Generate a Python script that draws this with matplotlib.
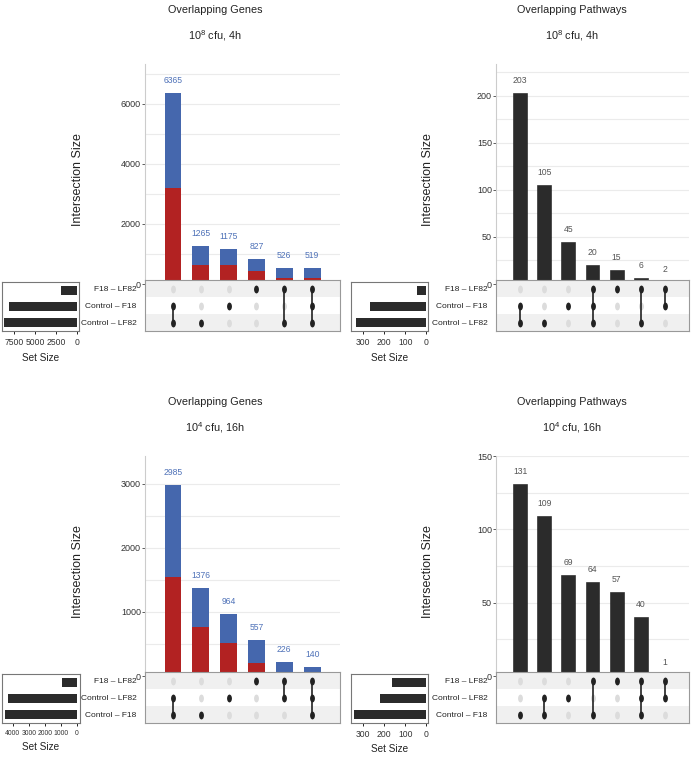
import matplotlib.pyplot as plt
from matplotlib.path import Path
from matplotlib.transforms import Affine2D
from matplotlib.ticker import MultipleLocator
import numpy as np

plt.rcParams['font.family'] = ['Liberation Sans', 'DejaVu Sans']
plt.rcParams['mathtext.default'] = 'regular'

W, H = 691, 762

# ---- data ----
# genes, 10^8 cfu 4h
g8_sets = ['F18 – LF82', 'Control – F18', 'Control – LF82']
g8_sizes = [1872, 8059, 8675]
g8_totals = [6365, 1265, 1175, 827, 526, 519]
g8_red = [3190, 620, 620, 440, 200, 210]
g8_members = [[1, 2], [2], [1], [0], [0, 2], [0, 1, 2]]

# pathways, 10^8 cfu 4h
p8_sets = ['F18 – LF82', 'Control – F18', 'Control – LF82']
p8_sizes = [43, 270, 334]
p8_totals = [203, 105, 45, 20, 15, 6, 2]
p8_members = [[1, 2], [2], [1], [0, 1, 2], [0], [0, 2], [0, 1]]

# genes, 10^4 cfu 16h
g4_sets = ['F18 – LF82', 'Control – LF82', 'Control – F18']
g4_sizes = [923, 4315, 4501]
g4_totals = [2985, 1376, 964, 557, 226, 140]
g4_red = [1540, 770, 510, 210, 70, 20]
g4_members = [[1, 2], [2], [1], [0], [0, 1], [0, 1, 2]]

# pathways, 10^4 cfu 16h
p4_sets = ['F18 – LF82', 'Control – LF82', 'Control – F18']
p4_sizes = [162, 219, 344]
p4_totals = [131, 109, 69, 64, 57, 40, 1]
p4_members = [[2], [1, 2], [1], [0, 2], [0], [0, 1, 2], [0, 1]]

RED = '#b22222'
BLUE = '#4567ad'
DARK = '#2b2b2b'

dot = Path.unit_circle().transformed(Affine2D().scale(0.62, 1.0))


def box(x0, y0, x1, y1):
    return [x0 / W, 1 - y1 / H, (x1 - x0) / W, (y1 - y0) / H]


def panel(fig, title, subtitle, sets, sizes, totals, members, red,
          ymax, major, ss_lim, ss_ticks, xl, xr, ss_x, top, ycenter, tx,
          ss_fs=6.2):
    n = len(totals)
    x = np.arange(n)

    # intersection bars
    ax = fig.add_axes(box(xl, top, xr, top + 220))
    ax.set_xlim(-1, n)
    ax.set_ylim(0, ymax)
    ax.yaxis.set_major_locator(MultipleLocator(major))
    ax.yaxis.set_minor_locator(MultipleLocator(major / 2))
    ax.grid(True, which='both', axis='y', color='#ebebeb', lw=0.8)
    ax.set_axisbelow(True)
    if red is None:
        ax.bar(x, totals, width=0.58, color=DARK, edgecolor='#1a1a1a', lw=0.4)
        lab_col = '#555555'
    else:
        blue = np.array(totals) - np.array(red)
        ax.bar(x, red, width=0.6, color=RED)
        ax.bar(x, blue, bottom=red, width=0.6, color=BLUE)
        lab_col = '#4f72b8'
    for xi, t in zip(x, totals):
        ax.annotate(str(t), (xi, t), xytext=(0, 9), textcoords='offset points',
                    ha='center', va='center', fontsize=6.2, color=lab_col)
    ax.set_xticks([])
    for s in ['top', 'right', 'bottom']:
        ax.spines[s].set_visible(False)
    ax.spines['left'].set_color('#cccccc')
    ax.tick_params(axis='y', which='major', length=2, width=0.6, color='#444444',
                   labelsize=6.5, pad=1, labelcolor='#333333')
    ax.tick_params(axis='y', which='minor', length=0)

    fig.text(ycenter[0] / W, 1 - ycenter[1] / H, 'Intersection Size', rotation=90,
             ha='center', va='center', fontsize=9, color='#222222')
    fig.text(tx / W, 1 - (top - 54) / H, title, ha='center', va='center',
             fontsize=7.8, color='#222222')
    fig.text(tx / W, 1 - (top - 28) / H, subtitle, ha='center', va='center',
             fontsize=7.8, color='#222222')

    # matrix
    mat = fig.add_axes(box(xl, top + 216, xr, top + 267))
    mat.set_xlim(-1, n)
    mat.set_ylim(-0.5, 2.5)
    rows_y = [2, 1, 0]
    for r, yv in enumerate(rows_y):
        if r != 1:
            mat.axhspan(yv - 0.5, yv + 0.5, color='#f0f0f0', lw=0, zorder=0)
    for xi, mem in zip(x, members):
        ys = [rows_y[r] for r in range(3) if r not in mem]
        mat.scatter([xi] * len(ys), ys, marker=dot, s=32, color='#dcdcdc',
                    lw=0, zorder=2)
        yd = [rows_y[r] for r in mem]
        if len(yd) > 1:
            mat.plot([xi, xi], [min(yd), max(yd)], color='#222222', lw=1.2, zorder=2)
        mat.scatter([xi] * len(yd), yd, marker=dot, s=32, color='#222222',
                    lw=0, zorder=3)
    mat.set_xticks([])
    mat.set_yticks(rows_y)
    mat.set_yticklabels(sets, fontsize=6.0, color='#222222')
    mat.tick_params(axis='y', length=0, pad=6)
    for s in mat.spines.values():
        s.set_color('#999999')
        s.set_linewidth(0.8)

    # set sizes
    ss = fig.add_axes(box(ss_x[0], top + 218, ss_x[1], top + 267))
    ss.barh(rows_y, sizes, height=0.55, color=DARK)
    ss.set_ylim(-0.5, 2.5)
    ss.set_xlim(*ss_lim)
    ss.set_xticks(ss_ticks)
    ss.set_yticks([])
    ss.tick_params(axis='x', length=2, width=0.6, labelsize=ss_fs, pad=3,
                   labelcolor='#333333')
    for s in ss.spines.values():
        s.set_color('#777777')
        s.set_linewidth(0.8)
    ss.set_xlabel('Set Size', fontsize=7.2, labelpad=4, color='#222222')


fig = plt.figure(figsize=(W / 100, H / 100), dpi=100)

panel(fig, 'Overlapping Genes', r'10$^{8}$ cfu, 4h', g8_sets, g8_sizes,
      g8_totals, g8_members, g8_red, 7333, 2000, (8950, -280),
      [7500, 5000, 2500, 0], 145, 340, (2, 79), 64, (78, 180), 215)
panel(fig, 'Overlapping Pathways', r'10$^{8}$ cfu, 4h', p8_sets, p8_sizes,
      p8_totals, p8_members, None, 234, 50, (358, -8),
      [300, 200, 100, 0], 496, 689, (351, 428), 64, (428, 180), 572)
panel(fig, 'Overlapping Genes', r'10$^{4}$ cfu, 16h', g4_sets, g4_sizes,
      g4_totals, g4_members, g4_red, 3437, 1000, (4680, -200),
      [4000, 3000, 2000, 1000, 0], 145, 340, (2, 80), 456, (78, 572), 215,
      ss_fs=4.9)
panel(fig, 'Overlapping Pathways', r'10$^{4}$ cfu, 16h', p4_sets, p4_sizes,
      p4_totals, p4_members, None, 150, 50, (358, -8),
      [300, 200, 100, 0], 496, 689, (351, 428), 456, (428, 572), 572)

fig.savefig('out.png', dpi=100)
